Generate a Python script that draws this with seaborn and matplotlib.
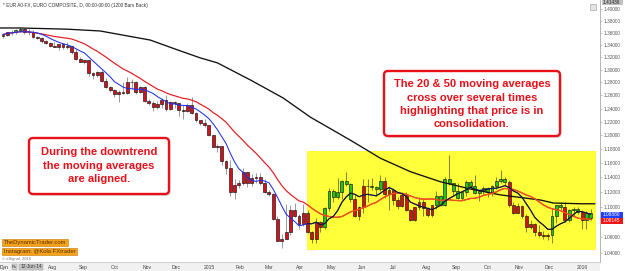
import numpy as np
import pandas as pd
import matplotlib
matplotlib.use("Agg")
import matplotlib.pyplot as plt
import seaborn as sns
from matplotlib.patches import Rectangle, FancyBboxPatch
from matplotlib.ticker import FixedLocator, NullLocator, FixedFormatter

# ---------------- data ----------------
first_day = "2014-06-12"
bar_days = 3            # each candle summarises 3 trading days
first_open = 1.354

closes = [1.357, 1.361, 1.361, 1.364, 1.366, 1.361, 1.361, 1.353, 1.352, 1.346,
          1.343, 1.339, 1.337, 1.341, 1.336, 1.339, 1.328, 1.317, 1.313, 1.315,
          1.295, 1.292, 1.296, 1.283, 1.273, 1.268, 1.262, 1.265, 1.263, 1.281,
          1.280, 1.265, 1.273, 1.252, 1.248, 1.242, 1.247, 1.253, 1.239, 1.250,
          1.249, 1.238, 1.237, 1.246, 1.233, 1.223, 1.219, 1.216, 1.200, 1.183,
          1.184, 1.163, 1.153, 1.120, 1.129, 1.133, 1.147, 1.132, 1.139, 1.141,
          1.133, 1.120, 1.117, 1.084, 1.055, 1.057, 1.066, 1.096, 1.088, 1.077,
          1.092, 1.066, 1.057, 1.080, 1.073, 1.098, 1.122, 1.113, 1.120, 1.135,
          1.131, 1.110, 1.087, 1.099, 1.128, 1.128, 1.127, 1.124, 1.135, 1.117,
          1.123, 1.109, 1.101, 1.116, 1.095, 1.082, 1.099, 1.106, 1.098, 1.089,
          1.102, 1.115, 1.103, 1.138, 1.132, 1.121, 1.112, 1.120, 1.134, 1.128,
          1.119, 1.121, 1.125, 1.120, 1.128, 1.135, 1.138, 1.134, 1.102, 1.092,
          1.101, 1.088, 1.073, 1.077, 1.066, 1.063, 1.061, 1.063, 1.088, 1.102,
          1.099, 1.083, 1.096, 1.097, 1.093, 1.083, 1.092, 1.085]

highs = [1.360, 1.362, 1.364, 1.366, 1.370, 1.368, 1.366, 1.364, 1.355, 1.353,
         1.348, 1.345, 1.345, 1.342, 1.343, 1.345, 1.339, 1.333, 1.321, 1.316,
         1.316, 1.297, 1.298, 1.299, 1.287, 1.275, 1.270, 1.268, 1.280, 1.289,
         1.285, 1.282, 1.275, 1.275, 1.255, 1.252, 1.251, 1.256, 1.260, 1.252,
         1.251, 1.249, 1.245, 1.248, 1.257, 1.234, 1.223, 1.225, 1.216, 1.201,
         1.187, 1.185, 1.165, 1.165, 1.138, 1.136, 1.153, 1.148, 1.145, 1.146,
         1.146, 1.138, 1.123, 1.118, 1.088, 1.064, 1.104, 1.102, 1.105, 1.090,
         1.104, 1.095, 1.068, 1.085, 1.081, 1.099, 1.126, 1.124, 1.139, 1.137,
         1.147, 1.132, 1.116, 1.101, 1.138, 1.138, 1.139, 1.128, 1.144, 1.140,
         1.128, 1.125, 1.113, 1.120, 1.120, 1.097, 1.100, 1.113, 1.110, 1.100,
         1.103, 1.122, 1.116, 1.141, 1.171, 1.133, 1.133, 1.122, 1.136, 1.136,
         1.144, 1.122, 1.128, 1.127, 1.130, 1.140, 1.150, 1.140, 1.136, 1.107,
         1.105, 1.102, 1.090, 1.083, 1.078, 1.076, 1.068, 1.065, 1.098, 1.103,
         1.106, 1.106, 1.097, 1.099, 1.099, 1.095, 1.094, 1.097]

lows = [1.352, 1.354, 1.357, 1.358, 1.362, 1.358, 1.357, 1.352, 1.349, 1.343,
        1.342, 1.337, 1.336, 1.332, 1.334, 1.334, 1.326, 1.316, 1.312, 1.309,
        1.290, 1.285, 1.288, 1.280, 1.271, 1.266, 1.258, 1.250, 1.262, 1.262,
        1.270, 1.262, 1.264, 1.250, 1.245, 1.236, 1.240, 1.241, 1.237, 1.238,
        1.241, 1.229, 1.224, 1.235, 1.231, 1.220, 1.216, 1.213, 1.199, 1.183,
        1.176, 1.157, 1.145, 1.115, 1.110, 1.126, 1.130, 1.127, 1.128, 1.133,
        1.130, 1.119, 1.115, 1.083, 1.055, 1.046, 1.057, 1.063, 1.086, 1.071,
        1.075, 1.065, 1.052, 1.053, 1.066, 1.070, 1.094, 1.107, 1.110, 1.110,
        1.128, 1.107, 1.086, 1.082, 1.092, 1.107, 1.123, 1.114, 1.122, 1.112,
        1.096, 1.103, 1.097, 1.100, 1.094, 1.081, 1.081, 1.096, 1.087, 1.086,
        1.086, 1.097, 1.101, 1.101, 1.130, 1.116, 1.110, 1.109, 1.114, 1.124,
        1.117, 1.108, 1.117, 1.113, 1.115, 1.124, 1.133, 1.130, 1.100, 1.090,
        1.092, 1.085, 1.067, 1.070, 1.062, 1.060, 1.057, 1.056, 1.052, 1.079,
        1.095, 1.080, 1.080, 1.088, 1.090, 1.071, 1.071, 1.082]

candle_color = ("rrrggrrrrr" "rrrrrrrrrr" "rrrrrrrrrr" "rrrrrrrrrr" "rrrrrrrrrr"
                "rrrrrrrrrr" "rrrrrrrrrr" "rrrrrggggg" "ggrrrggggr" "rrrrrrrrrr"
                "rggggggggg" "ggggggggrr" "rrrrrrrrgg" "grgggrgg")

# 200-period moving average (trading-day index, price)
ma200_day = [-1, 13, 46, 69, 104, 123, 139, 151, 174, 197, 216, 244, 265, 286,
             307, 328, 349, 377, 386, 405, 415]
ma200 = [1.368, 1.368, 1.366, 1.363, 1.348, 1.332, 1.319, 1.311, 1.284, 1.256,
         1.227, 1.193, 1.167, 1.148, 1.134, 1.124, 1.116, 1.109, 1.105, 1.104, 1.104]

price_ticks = [1.04, 1.06, 1.08, 1.10, 1.12, 1.14, 1.16, 1.18, 1.20, 1.22,
               1.24, 1.26, 1.28, 1.30, 1.32, 1.34, 1.36, 1.38, 1.40]
month_starts = ["2014-08-01", "2014-09-01", "2014-10-01", "2014-11-01", "2014-12-01",
                "2015-01-01", "2015-02-01", "2015-03-01", "2015-04-01", "2015-05-01",
                "2015-06-01", "2015-07-01", "2015-08-01", "2015-09-01", "2015-10-01",
                "2015-11-01", "2015-12-01", "2016-01-01"]
month_labels = ["Aug", "Sep", "Oct", "Nov", "Dec", "2015", "Feb", "Mar", "Apr", "May",
                "Jun", "Jul", "Aug", "Sep", "Oct", "Nov", "Dec", "2016"]

consolidation_days = (213.6, 415.7)
consolidation_prices = (1.0434, 1.1774)

title_text = "* EUR A0-FX, EURO COMPOSITE, D, 00:00-00:00 (1200 Bars Back)"
note1 = ["During the downtrend", "the moving averages", "are aligned."]
note2 = ["The 20 & 50 moving averages", "cross over several times",
         "highlighting that price is in", "consolidation."]
top_value = "1.41436"
ma20_label = "1.08880"
ma50_label = "1.08145"

# ---------------- derived frame ----------------
n = len(closes)
df = pd.DataFrame({"close": closes, "high": highs, "low": lows,
                   "col": list(candle_color)})
df["open"] = [first_open] + closes[:-1]
df["day"] = np.arange(n) * bar_days + (bar_days - 1) / 2
df["ma20"] = df["close"].rolling(7, min_periods=1).mean()
df["ma50"] = df["close"].rolling(17, min_periods=1).mean()
ma200_df = pd.DataFrame({"day": ma200_day, "ma": ma200})

dates = pd.bdate_range(first_day, periods=440)
tick_pos = [int(np.searchsorted(dates, pd.Timestamp(m))) for m in month_starts]

# ---------------- figure ----------------
sns.set_style("white")
plt.rcParams["font.family"] = ["Liberation Sans", "DejaVu Sans"]

W, H = 625, 271
fig = plt.figure(figsize=(W / 100, H / 100), dpi=100)
fig.patch.set_facecolor("white")
ax = fig.add_axes([0, 9 / H, 600 / W, 262 / H])
ax.set_facecolor("white")
ax.set_yscale("log")

inside = (df["day"] >= consolidation_days[0]).values

yellow = Rectangle((consolidation_days[0], consolidation_prices[0]),
                   consolidation_days[1] - consolidation_days[0],
                   consolidation_prices[1] - consolidation_prices[0],
                   facecolor="#ffff3a", edgecolor="none", zorder=0.5)
ax.add_patch(yellow)

# wicks
wick_cols = np.where(inside, "#6f6f28", "#8a8a8a")
ax.vlines(df["day"], df["low"], df["high"], colors=wick_cols, linewidth=0.6, zorder=2)

# bodies
body_cols = np.where(df["col"] == "g", "#1ec51e", "#d4101c")
edge_cols = np.where(inside, "#1a1a00", "#111111")
heights = (df["close"] - df["open"]).values
heights = np.where(np.abs(heights) < 0.0004, 0.0004, heights)
ax.bar(df["day"], heights, bottom=df["open"], width=2.0, color=body_cols,
       edgecolor=edge_cols, linewidth=0.45, zorder=2.5)

# moving averages
sns.lineplot(data=ma200_df, x="day", y="ma", ax=ax, color="#111111",
             linewidth=0.95, estimator=None, zorder=3)
sns.lineplot(data=df, x="day", y="ma50", ax=ax, color="#e3191e",
             linewidth=0.85, estimator=None, zorder=3.2)
sns.lineplot(data=df, x="day", y="ma50", ax=ax, color="#f0541e",
             linewidth=0.85, estimator=None, zorder=3.3)
ax.lines[-1].set_clip_path(yellow)
sns.lineplot(data=df, x="day", y="ma20", ax=ax, color="#1f2ff0",
             linewidth=0.75, estimator=None, zorder=3.4)
sns.lineplot(data=df, x="day", y="ma20", ax=ax, color="#151515",
             linewidth=0.75, estimator=None, zorder=3.5)
ax.lines[-1].set_clip_path(yellow)

ax.set_xlim(-1.049, 418.53)
ax.set_ylim(1.0283, 1.4155)
ax.set_xlabel("")
ax.set_ylabel("")
if ax.get_legend():
    ax.get_legend().remove()

# axes styling
ax.yaxis.tick_right()
ax.yaxis.set_major_locator(FixedLocator(price_ticks))
ax.yaxis.set_major_formatter(FixedFormatter([f"{p:.5f}" for p in price_ticks]))
ax.yaxis.set_minor_locator(NullLocator())
ax.tick_params(axis="y", which="major", length=1.5, width=0.4, color="#999999",
               labelsize=3.4, labelcolor="#555555", pad=1.2)
ax.xaxis.set_major_locator(FixedLocator(tick_pos))
ax.xaxis.set_major_formatter(FixedFormatter(month_labels))
ax.xaxis.set_minor_locator(NullLocator())
ax.tick_params(axis="x", length=0, labelsize=3.6, labelcolor="#444444", pad=2.2)
for s in ["left", "top"]:
    ax.spines[s].set_visible(False)
ax.spines["right"].set_color("#a8a8a8")
ax.spines["right"].set_linewidth(0.6)
ax.spines["bottom"].set_color("#c8c8c8")
ax.spines["bottom"].set_linewidth(0.6)
ax.grid(False)

# bottom strip
fig.patches.append(Rectangle((0, 0), 600 / W, 9 / H, transform=fig.transFigure,
                             facecolor="#f1f1f1", edgecolor="none", zorder=-1))

# ---------------- overlay in pixel coordinates ----------------
ov = fig.add_axes([0, 0, 1, 1], zorder=5)
ov.set_xlim(0, W)
ov.set_ylim(H, 0)
ov.axis("off")
ov.patch.set_alpha(0)

ov.text(3, 5, title_text, fontsize=3.4, color="#333333", ha="left", va="center")

red = "#e8101a"
def note_box(x0, y0, w, h):
    ov.add_patch(FancyBboxPatch((x0 + 1.5, y0 + 1.8), w, h,
                                boxstyle="round,pad=0,rounding_size=4",
                                facecolor="#b8b8b8", edgecolor="none", alpha=0.6))
    ov.add_patch(FancyBboxPatch((x0, y0), w, h,
                                boxstyle="round,pad=0,rounding_size=4",
                                facecolor="white", edgecolor=red, linewidth=1.7))

note_box(29, 138, 140, 56)
for txt, y in zip(note1, [152, 166, 179]):
    ov.text(99, y, txt, fontsize=8, fontweight="bold", color=red,
            ha="center", va="center")

note_box(384, 71, 176, 65)
for txt, y in zip(note2, [84.3, 97.7, 111, 124.3]):
    ov.text(472, y, txt, fontsize=8, fontweight="bold", color=red,
            ha="center", va="center")

# watermark boxes
ov.add_patch(Rectangle((2, 238.5), 66, 7, facecolor="#f5a31c", edgecolor="#c77800",
                       linewidth=0.4))
ov.text(4, 242.1, "TheDynamicTrader.com", fontsize=4.2, color="#5a2d00",
        ha="left", va="center")
ov.add_patch(Rectangle((2, 248), 75, 7.3, facecolor="#f5a31c", edgecolor="#c77800",
                       linewidth=0.4))
ov.text(4, 251.7, "Instagram: @Kola FXtrader", fontsize=4.2, color="#5a2d00",
        ha="left", va="center")
ov.text(2, 259.3, "\u00a9 eSignal, 2016", fontsize=3.0, color="#777777",
        ha="left", va="center")

# bottom-left widgets
ov.text(-0.5, 267, "Dyn", fontsize=3.6, color="#333333", ha="left", va="center")
ov.add_patch(Rectangle((11.5, 264), 5.5, 6, facecolor="#d0d0d0", edgecolor="#999999",
                       linewidth=0.3))
ov.text(14.2, 267, "Rs", fontsize=3.0, color="#333333", ha="center", va="center")
ov.add_patch(Rectangle((19, 264), 24, 6, facecolor="#c4c4c4", edgecolor="#999999",
                       linewidth=0.3))
ov.text(31, 267, "12-Jun-14", fontsize=3.4, color="#333333", ha="center", va="center")

# right side labels
ov.add_patch(Rectangle((601.5, 0), 21, 4.5, facecolor="#c0c0c0", edgecolor="none"))
ov.text(603, 2.3, top_value, fontsize=3.4, color="#222222", ha="left", va="center")
ov.add_patch(Rectangle((589.5, 4), 6, 6, facecolor="#e4e4e4", edgecolor="#999999",
                       linewidth=0.4))
ov.add_patch(Rectangle((601, 212.3), 22, 5.2, facecolor="#1f3fff", edgecolor="none"))
ov.text(603, 214.9, ma20_label, fontsize=3.4, color="white", ha="left", va="center")
ov.add_patch(Rectangle((601, 218.3), 22, 5.2, facecolor="#ee1515", edgecolor="none"))
ov.text(603, 220.9, ma50_label, fontsize=3.4, color="white", ha="left", va="center")

fig.savefig("out.png", dpi=100, facecolor="white")
